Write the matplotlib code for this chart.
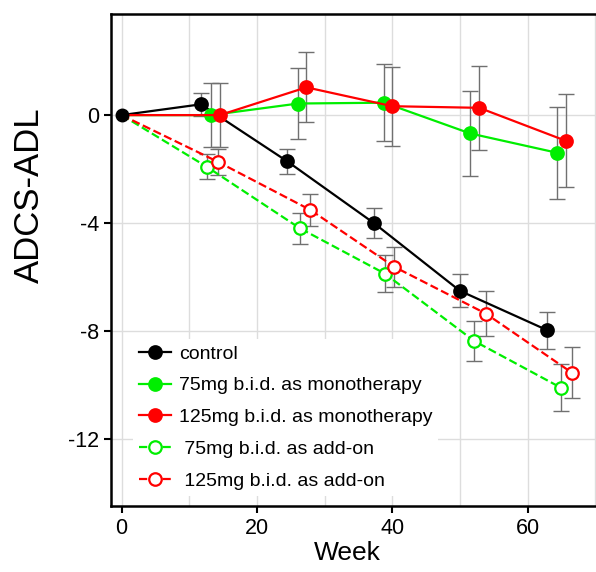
"""ADCS-ADL change over time, monotherapy vs add-on."""
import matplotlib
matplotlib.use("Agg")
import matplotlib.pyplot as plt

plt.rcParams["font.family"] = ["Liberation Sans", "DejaVu Sans"]
plt.rcParams["axes.unicode_minus"] = False

# week, mean change, +/- error per group
control_wk = [0, 11.7, 24.5, 37.3, 50.0, 62.9]
control_y = [0, 0.40, -1.72, -4.01, -6.52, -7.98]
control_err = [0, 0.43, 0.47, 0.55, 0.61, 0.68]

mono75_wk = [0, 13.2, 26.1, 38.8, 51.5, 64.4]
mono75_y = [0, 0.0, 0.43, 0.46, -0.68, -1.40]
mono75_err = [0, 1.19, 1.30, 1.43, 1.58, 1.71]

mono125_wk = [0, 14.5, 27.3, 40.0, 52.85, 65.6]
mono125_y = [0, 0.0, 1.03, 0.33, 0.27, -0.95]
mono125_err = [0, 1.18, 1.30, 1.46, 1.55, 1.72]

addon75_wk = [0, 12.6, 26.35, 38.9, 52.1, 64.9]
addon75_y = [0, -1.92, -4.20, -5.88, -8.38, -10.11]
addon75_err = [0, 0.46, 0.57, 0.68, 0.76, 0.88]

addon125_wk = [0, 14.2, 27.9, 40.3, 53.8, 66.5]
addon125_y = [0, -1.73, -3.52, -5.63, -7.36, -9.55]
addon125_err = [0, 0.48, 0.60, 0.75, 0.83, 0.93]

fig = plt.figure(figsize=(5.96, 5.72), dpi=100)
ax = fig.add_axes([0.1862, 0.1154, 0.8138, 0.8601])

series = [
    (control_wk, control_y, control_err, "black", "-", True, "control"),
    (mono75_wk, mono75_y, mono75_err, "#00ee00", "-", True, "75mg b.i.d. as monotherapy"),
    (mono125_wk, mono125_y, mono125_err, "#ff0000", "-", True, "125mg b.i.d. as monotherapy"),
    (addon75_wk, addon75_y, addon75_err, "#00ee00", "--", False, " 75mg b.i.d. as add-on"),
    (addon125_wk, addon125_y, addon125_err, "#ff0000", "--", False, " 125mg b.i.d. as add-on"),
]

for wk, y, err, col, ls, filled, lab in series:
    ax.errorbar(wk[1:], y[1:], yerr=err[1:], fmt="none", ecolor="#707070",
                elinewidth=1.0, capsize=6, capthick=1.0, zorder=2)
    ax.plot(wk, y, linestyle=ls, color=col, linewidth=1.6, marker="o", markersize=9,
            markevery=slice(1, None),
            markerfacecolor=col if filled else "white", markeredgecolor=col,
            markeredgewidth=1.6, label=lab, zorder=4)

# shared baseline point
ax.plot(control_wk[:1], control_y[:1], "o", color="black", markersize=9, zorder=5)

ax.set_xlim(-1.58, 70.1)
ax.set_ylim(-14.5, 3.75)
ax.set_xticks([0, 20, 40, 60])
ax.set_xticks(range(0, 71, 10), minor=True)
ax.set_yticks([0, -4, -8, -12])
ax.grid(True, which="both", color="#dddddd", linewidth=1.0, zorder=0)
ax.set_axisbelow(True)
ax.tick_params(which="major", direction="out", length=5, width=1.5, labelsize=15.5)
ax.tick_params(which="minor", length=0)
for s in ["left", "bottom", "top"]:
    ax.spines[s].set_linewidth(1.8)
ax.spines["right"].set_visible(False)

ax.set_xlabel("Week", fontsize=19)
ax.xaxis.set_label_coords(0.487, -0.072)
ax.set_ylabel("ADCS-ADL", fontsize=25)
ax.yaxis.set_label_coords(-0.134, 0.632)

leg = ax.legend(loc="upper left", bbox_to_anchor=(0.046, 0.339), borderaxespad=0,
                frameon=True, fancybox=False, edgecolor="none", framealpha=1,
                fontsize=14, handlelength=1.65, handletextpad=0.4,
                labelspacing=0.73, borderpad=0.3)

fig.savefig("out.png", dpi=100)
